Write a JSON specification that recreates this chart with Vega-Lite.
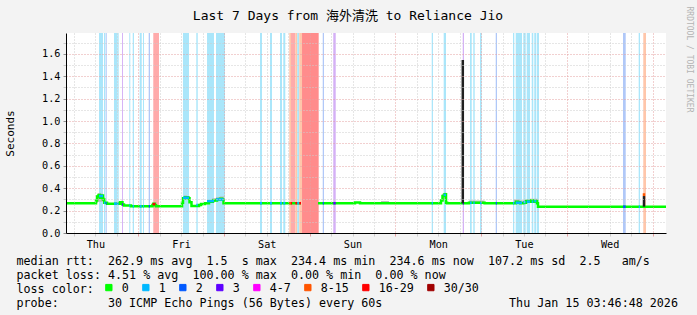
{
  "$schema": "https://vega.github.io/schema/vega-lite/v6.json",
  "width": 600,
  "height": 200,
  "autosize": {"type": "none"},
  "padding": {"left": 66, "top": 33, "right": 31, "bottom": 82},
  "background": "#f3f3f3",
  "view": {"fill": "#ffffff", "stroke": null},
  "config": {"axis": {"labelOverlap": false, "labelSeparation": 0}},
  "title": {
    "text": "Last 7 Days from 海外清洗 to Reliance Jio",
    "font": "DejaVu Sans Mono, Noto Sans CJK SC", "fontSize": 13, "fontWeight": "normal", "color": "#000000",
    "anchor": "middle", "frame": "group", "dx": -18, "dy": 40, "offset": 13, "baseline": "alphabetic"
  },
  "datasets": {
    "bars": [
      {"start": "2026-01-08T13:01:00Z", "end": "2026-01-08T14:08:00Z", "loss": "1"},
      {"start": "2026-01-08T14:25:00Z", "end": "2026-01-08T14:47:00Z", "loss": "1"},
      {"start": "2026-01-08T14:54:00Z", "end": "2026-01-08T15:11:00Z", "loss": "2"},
      {"start": "2026-01-08T17:13:00Z", "end": "2026-01-08T18:04:00Z", "loss": "1"},
      {"start": "2026-01-08T18:08:00Z", "end": "2026-01-08T18:32:00Z", "loss": "1"},
      {"start": "2026-01-08T19:28:00Z", "end": "2026-01-08T19:44:00Z", "loss": "3"},
      {"start": "2026-01-08T21:30:00Z", "end": "2026-01-08T21:47:00Z", "loss": "1"},
      {"start": "2026-01-08T22:28:00Z", "end": "2026-01-08T22:49:00Z", "loss": "1"},
      {"start": "2026-01-09T00:25:00Z", "end": "2026-01-09T00:59:00Z", "loss": "1"},
      {"start": "2026-01-09T01:20:00Z", "end": "2026-01-09T01:37:00Z", "loss": "1"},
      {"start": "2026-01-09T02:56:00Z", "end": "2026-01-09T03:18:00Z", "loss": "2"},
      {"start": "2026-01-09T04:13:00Z", "end": "2026-01-09T05:49:00Z", "loss": "16-29"},
      {"start": "2026-01-09T12:32:00Z", "end": "2026-01-09T14:13:00Z", "loss": "1"},
      {"start": "2026-01-09T16:16:00Z", "end": "2026-01-09T16:40:00Z", "loss": "1"},
      {"start": "2026-01-09T19:16:00Z", "end": "2026-01-09T21:13:00Z", "loss": "1"},
      {"start": "2026-01-09T21:47:00Z", "end": "2026-01-10T00:18:00Z", "loss": "1"},
      {"start": "2026-01-10T10:06:00Z", "end": "2026-01-10T10:40:00Z", "loss": "1"},
      {"start": "2026-01-10T12:54:00Z", "end": "2026-01-10T13:28:00Z", "loss": "1"},
      {"start": "2026-01-10T15:42:00Z", "end": "2026-01-10T16:16:00Z", "loss": "1"},
      {"start": "2026-01-10T16:37:00Z", "end": "2026-01-10T17:11:00Z", "loss": "1"},
      {"start": "2026-01-10T18:18:00Z", "end": "2026-01-10T18:47:00Z", "loss": "8-15"},
      {"start": "2026-01-10T18:47:00Z", "end": "2026-01-10T19:59:00Z", "loss": "16-29"},
      {"start": "2026-01-10T19:59:00Z", "end": "2026-01-10T20:32:00Z", "loss": "8-15"},
      {"start": "2026-01-10T20:32:00Z", "end": "2026-01-10T21:06:00Z", "loss": "1"},
      {"start": "2026-01-10T21:06:00Z", "end": "2026-01-10T21:52:00Z", "loss": "8-15"},
      {"start": "2026-01-10T21:52:00Z", "end": "2026-01-11T02:32:00Z", "loss": "30/30"},
      {"start": "2026-01-11T03:40:00Z", "end": "2026-01-11T04:01:00Z", "loss": "2"},
      {"start": "2026-01-11T06:37:00Z", "end": "2026-01-11T07:18:00Z", "loss": "3"},
      {"start": "2026-01-12T10:11:00Z", "end": "2026-01-12T10:32:00Z", "loss": "1"},
      {"start": "2026-01-12T13:32:00Z", "end": "2026-01-12T14:11:00Z", "loss": "1"},
      {"start": "2026-01-12T18:52:00Z", "end": "2026-01-12T19:13:00Z", "loss": "3"},
      {"start": "2026-01-12T20:54:00Z", "end": "2026-01-12T21:23:00Z", "loss": "1"},
      {"start": "2026-01-12T21:49:00Z", "end": "2026-01-12T22:13:00Z", "loss": "1"},
      {"start": "2026-01-12T23:42:00Z", "end": "2026-01-13T00:11:00Z", "loss": "1"},
      {"start": "2026-01-13T04:06:00Z", "end": "2026-01-13T04:28:00Z", "loss": "2"},
      {"start": "2026-01-13T08:56:00Z", "end": "2026-01-13T09:18:00Z", "loss": "1"},
      {"start": "2026-01-13T09:42:00Z", "end": "2026-01-13T11:28:00Z", "loss": "1"},
      {"start": "2026-01-13T11:49:00Z", "end": "2026-01-13T12:30:00Z", "loss": "1"},
      {"start": "2026-01-13T12:47:00Z", "end": "2026-01-13T13:42:00Z", "loss": "1"},
      {"start": "2026-01-13T14:11:00Z", "end": "2026-01-13T14:37:00Z", "loss": "1"},
      {"start": "2026-01-13T14:54:00Z", "end": "2026-01-13T15:28:00Z", "loss": "1"},
      {"start": "2026-01-13T15:40:00Z", "end": "2026-01-13T16:13:00Z", "loss": "1"},
      {"start": "2026-01-14T15:44:00Z", "end": "2026-01-14T16:30:00Z", "loss": "2"},
      {"start": "2026-01-14T20:08:00Z", "end": "2026-01-14T20:30:00Z", "loss": "1"},
      {"start": "2026-01-14T21:25:00Z", "end": "2026-01-14T22:11:00Z", "loss": "8-15"}
    ],
    "smoke": [
      {"g": "a", "t": "2026-01-08T11:54:00Z", "lo": 0.262, "hi": 0.3},
      {"g": "a", "t": "2026-01-08T12:19:00Z", "lo": 0.27, "hi": 0.34},
      {"g": "a", "t": "2026-01-08T12:44:00Z", "lo": 0.28, "hi": 0.355},
      {"g": "a", "t": "2026-01-08T13:35:00Z", "lo": 0.28, "hi": 0.35},
      {"g": "a", "t": "2026-01-08T14:08:00Z", "lo": 0.27, "hi": 0.32},
      {"g": "a", "t": "2026-01-08T14:42:00Z", "lo": 0.262, "hi": 0.275},
      {"g": "b", "t": "2026-01-08T17:47:00Z", "lo": 0.262, "hi": 0.275},
      {"g": "b", "t": "2026-01-08T19:19:00Z", "lo": 0.255, "hi": 0.29},
      {"g": "b", "t": "2026-01-08T19:36:00Z", "lo": 0.25, "hi": 0.26},
      {"g": "c", "t": "2026-01-09T12:24:00Z", "lo": 0.27, "hi": 0.3},
      {"g": "c", "t": "2026-01-09T12:49:00Z", "lo": 0.3, "hi": 0.335},
      {"g": "c", "t": "2026-01-09T13:40:00Z", "lo": 0.3, "hi": 0.33},
      {"g": "c", "t": "2026-01-09T14:30:00Z", "lo": 0.26, "hi": 0.28},
      {"g": "d", "t": "2026-01-09T18:25:00Z", "lo": 0.26, "hi": 0.275},
      {"g": "d", "t": "2026-01-09T19:32:00Z", "lo": 0.27, "hi": 0.295},
      {"g": "d", "t": "2026-01-09T20:40:00Z", "lo": 0.28, "hi": 0.31},
      {"g": "d", "t": "2026-01-09T21:47:00Z", "lo": 0.29, "hi": 0.32},
      {"g": "d", "t": "2026-01-09T22:54:00Z", "lo": 0.295, "hi": 0.325},
      {"g": "d", "t": "2026-01-10T00:01:00Z", "lo": 0.266, "hi": 0.27},
      {"g": "e", "t": "2026-01-11T19:59:00Z", "lo": 0.266, "hi": 0.285},
      {"g": "e", "t": "2026-01-11T22:13:00Z", "lo": 0.266, "hi": 0.27},
      {"g": "f", "t": "2026-01-12T12:30:00Z", "lo": 0.27, "hi": 0.3},
      {"g": "f", "t": "2026-01-12T13:04:00Z", "lo": 0.29, "hi": 0.35},
      {"g": "f", "t": "2026-01-12T13:37:00Z", "lo": 0.3, "hi": 0.36},
      {"g": "f", "t": "2026-01-12T14:19:00Z", "lo": 0.266, "hi": 0.27},
      {"g": "g", "t": "2026-01-12T20:37:00Z", "lo": 0.268, "hi": 0.29},
      {"g": "g", "t": "2026-01-13T00:59:00Z", "lo": 0.266, "hi": 0.27},
      {"g": "h", "t": "2026-01-13T09:13:00Z", "lo": 0.27, "hi": 0.3},
      {"g": "h", "t": "2026-01-13T10:54:00Z", "lo": 0.265, "hi": 0.29},
      {"g": "h", "t": "2026-01-13T12:35:00Z", "lo": 0.275, "hi": 0.3},
      {"g": "h", "t": "2026-01-13T13:42:00Z", "lo": 0.28, "hi": 0.305},
      {"g": "h", "t": "2026-01-13T15:48:00Z", "lo": 0.24, "hi": 0.26}
    ],
    "median": [
      {"t": "2026-01-08T03:47:00Z", "v": 0.266},
      {"t": "2026-01-08T12:11:00Z", "v": 0.29},
      {"t": "2026-01-08T12:28:00Z", "v": 0.325},
      {"t": "2026-01-08T12:53:00Z", "v": 0.34},
      {"t": "2026-01-08T13:18:00Z", "v": 0.315},
      {"t": "2026-01-08T13:43:00Z", "v": 0.335},
      {"t": "2026-01-08T14:08:00Z", "v": 0.3},
      {"t": "2026-01-08T14:30:00Z", "v": 0.27},
      {"t": "2026-01-08T15:16:00Z", "v": 0.262},
      {"t": "2026-01-08T18:54:00Z", "v": 0.275},
      {"t": "2026-01-08T19:36:00Z", "v": 0.255},
      {"t": "2026-01-08T20:01:00Z", "v": 0.245},
      {"t": "2026-01-08T21:59:00Z", "v": 0.238},
      {"t": "2026-01-09T03:59:00Z", "v": 0.25},
      {"t": "2026-01-09T04:16:00Z", "v": 0.262},
      {"t": "2026-01-09T04:42:00Z", "v": 0.248},
      {"t": "2026-01-09T04:59:00Z", "v": 0.238},
      {"t": "2026-01-09T12:16:00Z", "v": 0.27},
      {"t": "2026-01-09T12:32:00Z", "v": 0.31},
      {"t": "2026-01-09T13:06:00Z", "v": 0.32},
      {"t": "2026-01-09T13:56:00Z", "v": 0.31},
      {"t": "2026-01-09T14:22:00Z", "v": 0.275},
      {"t": "2026-01-09T14:55:00Z", "v": 0.24},
      {"t": "2026-01-09T17:01:00Z", "v": 0.25},
      {"t": "2026-01-09T17:35:00Z", "v": 0.26},
      {"t": "2026-01-09T18:42:00Z", "v": 0.265},
      {"t": "2026-01-09T19:49:00Z", "v": 0.28},
      {"t": "2026-01-09T20:56:00Z", "v": 0.29},
      {"t": "2026-01-09T22:04:00Z", "v": 0.3},
      {"t": "2026-01-09T22:54:00Z", "v": 0.305},
      {"t": "2026-01-09T23:28:00Z", "v": 0.3},
      {"t": "2026-01-09T23:53:00Z", "v": 0.266},
      {"t": "2026-01-10T21:35:00Z", "v": 0.266},
      {"t": "2026-01-10T21:36:00Z", "v": null},
      {"t": "2026-01-11T02:20:00Z", "v": 0.266},
      {"t": "2026-01-11T12:42:00Z", "v": 0.272},
      {"t": "2026-01-11T14:06:00Z", "v": 0.266},
      {"t": "2026-01-12T12:47:00Z", "v": 0.29},
      {"t": "2026-01-12T13:12:00Z", "v": 0.33},
      {"t": "2026-01-12T13:46:00Z", "v": 0.345},
      {"t": "2026-01-12T14:11:00Z", "v": 0.27},
      {"t": "2026-01-12T14:30:00Z", "v": 0.266},
      {"t": "2026-01-12T20:37:00Z", "v": 0.27},
      {"t": "2026-01-13T00:59:00Z", "v": 0.266},
      {"t": "2026-01-13T09:47:00Z", "v": 0.28},
      {"t": "2026-01-13T10:20:00Z", "v": 0.275},
      {"t": "2026-01-13T10:54:00Z", "v": 0.265},
      {"t": "2026-01-13T12:01:00Z", "v": 0.27},
      {"t": "2026-01-13T12:35:00Z", "v": 0.285},
      {"t": "2026-01-13T13:25:00Z", "v": 0.28},
      {"t": "2026-01-13T13:59:00Z", "v": 0.29},
      {"t": "2026-01-13T14:32:00Z", "v": 0.28},
      {"t": "2026-01-13T15:06:00Z", "v": 0.285},
      {"t": "2026-01-13T15:40:00Z", "v": 0.265},
      {"t": "2026-01-13T15:56:00Z", "v": 0.235},
      {"t": "2026-01-15T03:47:00Z", "v": 0.235}
    ],
    "segs": [
      {"seg": 1, "loss": "1", "t": "2026-01-08T13:01:00Z", "v": 0.33}, {"seg": 1, "loss": "1", "t": "2026-01-08T14:08:00Z", "v": 0.33},
      {"seg": 2, "loss": "1", "t": "2026-01-08T14:25:00Z", "v": 0.27}, {"seg": 2, "loss": "1", "t": "2026-01-08T14:47:00Z", "v": 0.27},
      {"seg": 3, "loss": "2", "t": "2026-01-08T14:54:00Z", "v": 0.265}, {"seg": 3, "loss": "2", "t": "2026-01-08T15:11:00Z", "v": 0.265},
      {"seg": 4, "loss": "1", "t": "2026-01-08T17:13:00Z", "v": 0.262}, {"seg": 4, "loss": "1", "t": "2026-01-08T18:04:00Z", "v": 0.262},
      {"seg": 5, "loss": "1", "t": "2026-01-08T18:08:00Z", "v": 0.262}, {"seg": 5, "loss": "1", "t": "2026-01-08T18:32:00Z", "v": 0.262},
      {"seg": 6, "loss": "3", "t": "2026-01-08T19:28:00Z", "v": 0.255}, {"seg": 6, "loss": "3", "t": "2026-01-08T19:44:00Z", "v": 0.255},
      {"seg": 7, "loss": "1", "t": "2026-01-08T21:30:00Z", "v": 0.245}, {"seg": 7, "loss": "1", "t": "2026-01-08T21:47:00Z", "v": 0.245},
      {"seg": 8, "loss": "1", "t": "2026-01-08T22:28:00Z", "v": 0.238}, {"seg": 8, "loss": "1", "t": "2026-01-08T22:49:00Z", "v": 0.238},
      {"seg": 9, "loss": "1", "t": "2026-01-09T00:25:00Z", "v": 0.238}, {"seg": 9, "loss": "1", "t": "2026-01-09T00:59:00Z", "v": 0.238},
      {"seg": 10, "loss": "1", "t": "2026-01-09T01:20:00Z", "v": 0.238}, {"seg": 10, "loss": "1", "t": "2026-01-09T01:37:00Z", "v": 0.238},
      {"seg": 11, "loss": "2", "t": "2026-01-09T02:56:00Z", "v": 0.238}, {"seg": 11, "loss": "2", "t": "2026-01-09T03:18:00Z", "v": 0.238},
      {"seg": 12, "loss": "16-29", "t": "2026-01-09T04:00:00Z", "v": 0.258}, {"seg": 12, "loss": "16-29", "t": "2026-01-09T04:50:00Z", "v": 0.258},
      {"seg": 13, "loss": "1", "t": "2026-01-09T12:32:00Z", "v": 0.315}, {"seg": 13, "loss": "1", "t": "2026-01-09T14:13:00Z", "v": 0.315},
      {"seg": 14, "loss": "1", "t": "2026-01-09T16:16:00Z", "v": 0.25}, {"seg": 14, "loss": "1", "t": "2026-01-09T16:40:00Z", "v": 0.25},
      {"seg": 15, "loss": "1", "t": "2026-01-09T19:16:00Z", "v": 0.285}, {"seg": 15, "loss": "1", "t": "2026-01-09T21:13:00Z", "v": 0.285},
      {"seg": 16, "loss": "1", "t": "2026-01-09T21:47:00Z", "v": 0.3}, {"seg": 16, "loss": "1", "t": "2026-01-09T23:53:00Z", "v": 0.3},
      {"seg": 17, "loss": "1", "t": "2026-01-10T10:06:00Z", "v": 0.266}, {"seg": 17, "loss": "1", "t": "2026-01-10T10:40:00Z", "v": 0.266},
      {"seg": 18, "loss": "1", "t": "2026-01-10T12:54:00Z", "v": 0.266}, {"seg": 18, "loss": "1", "t": "2026-01-10T13:28:00Z", "v": 0.266},
      {"seg": 19, "loss": "1", "t": "2026-01-10T15:42:00Z", "v": 0.266}, {"seg": 19, "loss": "1", "t": "2026-01-10T16:16:00Z", "v": 0.266},
      {"seg": 20, "loss": "1", "t": "2026-01-10T16:37:00Z", "v": 0.266}, {"seg": 20, "loss": "1", "t": "2026-01-10T17:11:00Z", "v": 0.266},
      {"seg": 21, "loss": "8-15", "t": "2026-01-10T18:18:00Z", "v": 0.266}, {"seg": 21, "loss": "8-15", "t": "2026-01-10T18:47:00Z", "v": 0.266},
      {"seg": 22, "loss": "16-29", "t": "2026-01-10T18:47:00Z", "v": 0.266}, {"seg": 22, "loss": "16-29", "t": "2026-01-10T19:05:00Z", "v": 0.266},
      {"seg": 23, "loss": "16-29", "t": "2026-01-10T20:00:00Z", "v": 0.266}, {"seg": 23, "loss": "16-29", "t": "2026-01-10T20:32:00Z", "v": 0.266},
      {"seg": 24, "loss": "1", "t": "2026-01-10T20:32:00Z", "v": 0.266}, {"seg": 24, "loss": "1", "t": "2026-01-10T21:06:00Z", "v": 0.266},
      {"seg": 25, "loss": "16-29", "t": "2026-01-10T21:06:00Z", "v": 0.266}, {"seg": 25, "loss": "16-29", "t": "2026-01-10T21:35:00Z", "v": 0.266},
      {"seg": 26, "loss": "2", "t": "2026-01-11T03:40:00Z", "v": 0.266}, {"seg": 26, "loss": "2", "t": "2026-01-11T04:01:00Z", "v": 0.266},
      {"seg": 27, "loss": "3", "t": "2026-01-11T06:37:00Z", "v": 0.266}, {"seg": 27, "loss": "3", "t": "2026-01-11T07:18:00Z", "v": 0.266},
      {"seg": 28, "loss": "1", "t": "2026-01-12T10:11:00Z", "v": 0.266}, {"seg": 28, "loss": "1", "t": "2026-01-12T10:32:00Z", "v": 0.266},
      {"seg": 29, "loss": "1", "t": "2026-01-12T13:32:00Z", "v": 0.34}, {"seg": 29, "loss": "1", "t": "2026-01-12T14:11:00Z", "v": 0.34},
      {"seg": 30, "loss": "3", "t": "2026-01-12T18:52:00Z", "v": 0.266}, {"seg": 30, "loss": "3", "t": "2026-01-12T19:13:00Z", "v": 0.266},
      {"seg": 31, "loss": "1", "t": "2026-01-12T20:54:00Z", "v": 0.27}, {"seg": 31, "loss": "1", "t": "2026-01-12T21:23:00Z", "v": 0.27},
      {"seg": 32, "loss": "1", "t": "2026-01-12T21:49:00Z", "v": 0.27}, {"seg": 32, "loss": "1", "t": "2026-01-12T22:13:00Z", "v": 0.27},
      {"seg": 33, "loss": "1", "t": "2026-01-12T23:42:00Z", "v": 0.268}, {"seg": 33, "loss": "1", "t": "2026-01-13T00:11:00Z", "v": 0.268},
      {"seg": 34, "loss": "2", "t": "2026-01-13T04:06:00Z", "v": 0.266}, {"seg": 34, "loss": "2", "t": "2026-01-13T04:28:00Z", "v": 0.266},
      {"seg": 35, "loss": "1", "t": "2026-01-13T08:56:00Z", "v": 0.266}, {"seg": 35, "loss": "1", "t": "2026-01-13T09:18:00Z", "v": 0.266},
      {"seg": 36, "loss": "1", "t": "2026-01-13T09:42:00Z", "v": 0.27}, {"seg": 36, "loss": "1", "t": "2026-01-13T11:28:00Z", "v": 0.27},
      {"seg": 37, "loss": "1", "t": "2026-01-13T11:49:00Z", "v": 0.275}, {"seg": 37, "loss": "1", "t": "2026-01-13T12:30:00Z", "v": 0.275},
      {"seg": 38, "loss": "1", "t": "2026-01-13T12:47:00Z", "v": 0.28}, {"seg": 38, "loss": "1", "t": "2026-01-13T13:42:00Z", "v": 0.28},
      {"seg": 39, "loss": "1", "t": "2026-01-13T14:11:00Z", "v": 0.28}, {"seg": 39, "loss": "1", "t": "2026-01-13T14:37:00Z", "v": 0.28},
      {"seg": 40, "loss": "1", "t": "2026-01-13T14:54:00Z", "v": 0.285}, {"seg": 40, "loss": "1", "t": "2026-01-13T15:28:00Z", "v": 0.285},
      {"seg": 41, "loss": "2", "t": "2026-01-14T15:44:00Z", "v": 0.235}, {"seg": 41, "loss": "2", "t": "2026-01-14T16:30:00Z", "v": 0.235},
      {"seg": 42, "loss": "1", "t": "2026-01-14T20:08:00Z", "v": 0.235}, {"seg": 42, "loss": "1", "t": "2026-01-14T20:30:00Z", "v": 0.235},
      {"seg": 43, "loss": "8-15", "t": "2026-01-14T21:37:00Z", "v": 0.33}, {"seg": 43, "loss": "8-15", "t": "2026-01-14T21:37:00Z", "v": 0.355}
    ],
    "spikes": [
      {"t": "2026-01-12T18:53:00Z", "lo": 0.265, "hi": 1.545},
      {"t": "2026-01-14T21:37:00Z", "lo": 0.235, "hi": 0.33}
    ]
  },
  "resolve": {"axis": {"y": "independent"}},
  "layer": [
    {
      "data": {"name": "bars"},
      "mark": {"type": "rect"},
      "encoding": {
        "x": {
          "field": "start", "type": "temporal",
          "scale": {"type": "utc", "domain": [1767844008000, 1768448808000]},
          "axis": {
            "values": [1767852000000, 1767873600000, 1767895200000, 1767916800000, 1767938400000, 1767960000000, 1767981600000, 1768003200000, 1768024800000, 1768046400000, 1768068000000, 1768089600000, 1768111200000, 1768132800000, 1768154400000, 1768176000000, 1768197600000, 1768219200000, 1768240800000, 1768262400000, 1768284000000, 1768305600000, 1768327200000, 1768348800000, 1768370400000, 1768392000000, 1768413600000, 1768435200000],
            "tickCount": 100,
            "labelExpr": "utchours(datum.value) == 12 ? utcFormat(datum.value, '%a') : ''",
            "labelFont": "DejaVu Sans Mono", "labelFontSize": 10.2, "labelColor": "#000000",
            "labelPadding": 3, "labelOverlap": false, "labelFlush": false, "labelSeparation": 0,
            "grid": true,
            "gridColor": {"condition": {"test": "utchours(datum.value) == 0", "value": "#e4a0a0"}, "value": "#cccccc"},
            "gridDash": [1, 2], "gridWidth": 1,
            "ticks": true, "tickSize": 3,
            "tickColor": {"condition": {"test": "utchours(datum.value) == 0", "value": "#e4a0a0"}, "value": "#cccccc"},
            "domainColor": "#000000", "domainWidth": 1,
            "title": [
              "median\u00a0rtt:\u00a0\u00a0262.9\u00a0ms\u00a0avg\u00a0\u00a01.5\u00a0\u00a0s\u00a0max\u00a0\u00a0234.4\u00a0ms\u00a0min\u00a0\u00a0234.6\u00a0ms\u00a0now\u00a0\u00a0107.2\u00a0ms\u00a0sd\u00a0\u00a02.5\u00a0\u00a0\u00a0am/s",
              "packet\u00a0loss:\u00a04.51\u00a0%\u00a0avg\u00a0\u00a0100.00\u00a0%\u00a0max\u00a0\u00a00.00\u00a0%\u00a0min\u00a0\u00a00.00\u00a0%\u00a0now",
              "loss\u00a0color:",
              "probe:\u00a0\u00a0\u00a0\u00a0\u00a0\u00a0\u00a030\u00a0ICMP\u00a0Echo\u00a0Pings\u00a0(56\u00a0Bytes)\u00a0every\u00a060s\u00a0\u00a0\u00a0\u00a0\u00a0\u00a0\u00a0\u00a0\u00a0\u00a0\u00a0\u00a0\u00a0\u00a0\u00a0\u00a0\u00a0\u00a0Thu\u00a0Jan\u00a015\u00a003:46:48\u00a02026"
            ],
            "titleFont": "DejaVu Sans Mono", "titleFontSize": 11.7, "titleFontWeight": "normal", "titleColor": "#000000",
            "titleX": -50, "titleY": 31, "titleAlign": "left", "titleBaseline": "alphabetic", "titleLineHeight": 14,
            "zindex": 1
          }
        },
        "x2": {"field": "end"},
        "fill": {
          "field": "loss", "type": "nominal",
          "scale": {"domain": ["1", "2", "3", "8-15", "16-29", "30/30"], "range": ["#aae6fa", "#b0c8f8", "#d4b0f6", "#ffc6aa", "#ffaaaa", "#ff8c8c"]},
          "legend": null
        }
      }
    },
    {
      "data": {"name": "smoke"},
      "mark": {"type": "area", "interpolate": "step-after", "color": "#b8b8b8"},
      "encoding": {
        "x": {"field": "t", "type": "temporal", "scale": {"type": "utc"}},
        "y": {
          "field": "lo", "type": "quantitative",
          "axis": {
            "orient": "right", "labels": false, "ticks": false, "domain": false, "grid": false,
            "title": "RRDTOOL / TOBI OETIKER",
            "titleFont": "DejaVu Sans Mono", "titleFontSize": 8, "titleFontWeight": "normal", "titleColor": "#b4b4b4",
            "titleAngle": 90, "titleX": 22, "titleY": -27, "titleAlign": "left", "titleBaseline": "middle"
          }
        },
        "y2": {"field": "hi"},
        "detail": {"field": "g", "type": "nominal"}
      }
    },
    {
      "layer": [
        {
          "data": {"name": "median"},
          "mark": {"type": "line", "interpolate": "step-after", "color": "#00ff00", "strokeWidth": 2.5},
          "encoding": {
            "x": {"field": "t", "type": "temporal", "scale": {"type": "utc"}},
            "y": {
              "field": "v", "type": "quantitative",
              "scale": {"domain": [0, 1.786], "nice": false},
              "axis": {
                "orient": "left",
                "values": [0, 0.1, 0.2, 0.3, 0.4, 0.5, 0.6, 0.7, 0.8, 0.9, 1.0, 1.1, 1.2, 1.3, 1.4, 1.5, 1.6, 1.7],
                "tickCount": 100,
                "labelExpr": "round(datum.value * 10) % 2 == 0 ? format(datum.value, '.1f') : ''",
                "labelFont": "DejaVu Sans Mono", "labelFontSize": 10.2, "labelColor": "#000000", "labelPadding": 3,
                "labelOverlap": false, "labelSeparation": 0, "labelFlush": false,
                "tickSize": 3,
                "tickColor": {"condition": {"test": "round(datum.value * 10) % 2 == 0", "value": "#909090"}, "value": "#c8c8c8"},
                "grid": true,
                "gridColor": {"condition": {"test": "round(datum.value * 10) % 2 == 0", "value": "#e4a0a0"}, "value": "#cccccc"},
                "gridDash": [1, 2], "gridWidth": 1,
                "domainColor": "#000000", "domainWidth": 1,
                "title": "Seconds",
                "titleFont": "DejaVu Sans Mono", "titleFontSize": 11, "titleFontWeight": "normal", "titleColor": "#000000",
                "titleAngle": 270, "titleX": -56, "titleY": 100, "titleAlign": "center", "titleBaseline": "middle",
                "zindex": 1
              }
            }
          }
        },
        {
          "data": {"name": "segs"},
          "mark": {"type": "line", "strokeWidth": 2.5, "strokeCap": "butt"},
          "encoding": {
            "x": {"field": "t", "type": "temporal", "scale": {"type": "utc"}},
            "y": {"field": "v", "type": "quantitative"},
            "detail": {"field": "seg", "type": "nominal"},
            "color": {
              "field": "loss", "type": "nominal",
              "scale": {
                "domain": ["0", "1", "2", "3", "4-7", "8-15", "16-29", "30/30"],
                "range": ["#00ff00", "#00b8ff", "#0059ff", "#5e00ff", "#ff00ff", "#ff5500", "#ff0000", "#a00000"]
              },
              "legend": {
                "orient": "none", "legendX": 37, "legendY": 248.5, "direction": "horizontal", "title": null,
                "symbolType": "square", "symbolSize": 40, "symbolStrokeWidth": 1, "symbolStrokeColor": "#000000",
                "labelFont": "DejaVu Sans Mono", "labelFontSize": 11.7, "labelColor": "#000000",
                "labelOffset": 7, "columnPadding": 11, "padding": 0, "labelLimit": 100,
                "encode": {"symbols": {"update": {
                  "fill": {"scale": "color", "field": "value"},
                  "fillOpacity": {"value": 1},
                  "stroke": {"value": "#000000"},
                  "strokeWidth": {"value": 1}
                }}}
              }
            }
          }
        },
        {
          "data": {"name": "spikes"},
          "mark": {"type": "rule", "color": "#202020", "strokeWidth": 2.5},
          "encoding": {
            "x": {"field": "t", "type": "temporal", "scale": {"type": "utc"}},
            "y": {"field": "lo", "type": "quantitative"},
            "y2": {"field": "hi"}
          }
        }
      ]
    }
  ]
}
